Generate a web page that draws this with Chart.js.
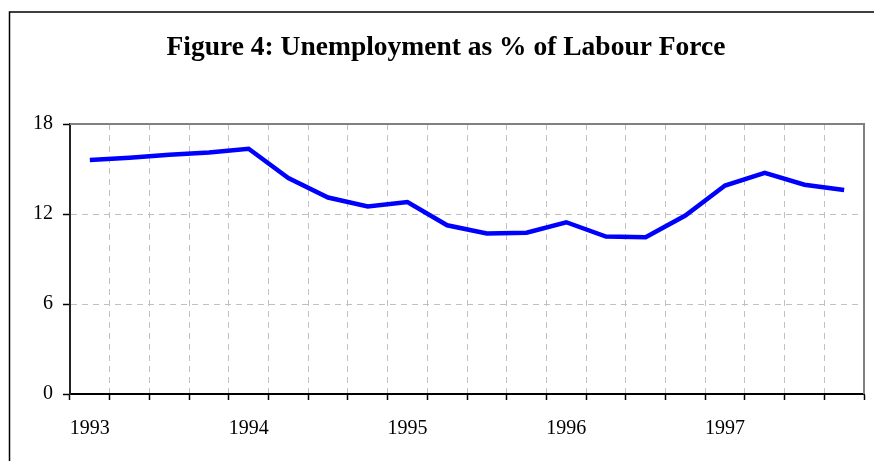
<!DOCTYPE html>
<html>
<head>
<meta charset="utf-8">
<script src="https://cdn.jsdelivr.net/npm/chart.js@4/dist/chart.umd.min.js"></script>
<style>
  html, body { margin: 0; padding: 0; background: #fff; }
  #wrap { width: 874px; height: 461px; position: relative; }
</style>
</head>
<body>
<div id="wrap"><canvas id="unempChart" width="874" height="461"></canvas></div>
<script>
// Quarterly data, 1993 Q1 - 1997 Q4
const quarters = [
    '1993 Q1', '1993 Q2', '1993 Q3', '1993 Q4',
    '1994 Q1', '1994 Q2', '1994 Q3', '1994 Q4',
    '1995 Q1', '1995 Q2', '1995 Q3', '1995 Q4',
    '1996 Q1', '1996 Q2', '1996 Q3', '1996 Q4',
    '1997 Q1', '1997 Q2', '1997 Q3', '1997 Q4'
];
const unemployment = [
    15.6, 15.75, 15.95, 16.1,
    16.35, 14.4, 13.1, 12.5,
    12.8, 11.25, 10.7, 10.75,
    11.45, 10.5, 10.45, 11.9,
    13.9, 14.75, 13.95, 13.6
];
const yearLabels = ['1993', '', '', '', '1994', '', '', '', '1995', '', '', '', '1996', '', '', '', '1997', '', '', ''];
const yTicks = [0, 6, 12, 18];

const serif = "'Liberation Serif', 'Times New Roman', serif";

// Gray frame on top/right of the plot and the outer box lines
const framePlugin = {
    id: 'frame',
    afterDraw(chart) {
        const { ctx, chartArea: a } = chart;
        ctx.save();
        ctx.strokeStyle = '#808080';
        ctx.lineWidth = 2;
        ctx.beginPath();
        ctx.moveTo(a.left, a.top);
        ctx.lineTo(a.right, a.top);
        ctx.lineTo(a.right, a.bottom);
        ctx.stroke();
        ctx.strokeStyle = '#000';
        ctx.lineWidth = 1.5;
        ctx.beginPath();
        ctx.moveTo(9.5, 461);
        ctx.lineTo(9.5, 12);
        ctx.lineTo(874, 12);
        ctx.stroke();
        ctx.restore();
    }
};

const ctx = document.getElementById('unempChart').getContext('2d');
new Chart(ctx, {
    type: 'line',
    data: {
        labels: quarters,
        datasets: [{
            label: 'Unemployment (%)',
            data: unemployment,
            borderColor: '#0000ff',
            backgroundColor: '#0000ff',
            borderWidth: 4.5,
            pointRadius: 0,
            tension: 0
        }]
    },
    options: {
        responsive: false,
        animation: false,
        layout: { padding: { left: 28, right: 10, top: 0, bottom: 0 } },
        plugins: {
            legend: { display: false },
            tooltip: { enabled: false },
            title: {
                display: true,
                text: 'Figure 4: Unemployment as % of Labour Force',
                color: '#000',
                font: { family: serif, size: 27.5, weight: 'bold' },
                padding: { top: 31, bottom: 60 }
            }
        },
        scales: {
            x: {
                offset: true,
                grid: {
                    offset: true,
                    color: '#c0c0c0',
                    lineWidth: 1,
                    tickLength: 6,
                    tickColor: '#000',
                    tickWidth: 1.5,
                    tickBorderDash: []
                },
                border: { display: true, color: '#000', width: 2, dash: [6, 5] },
                ticks: {
                    autoSkip: false,
                    maxRotation: 0,
                    color: '#000',
                    font: { family: serif, size: 20 },
                    padding: 17,
                    callback: (v, i) => yearLabels[i]
                },
                afterFit: s => { s.height = 67; }
            },
            y: {
                min: 0,
                max: 18,
                afterBuildTicks: s => { s.ticks = yTicks.map(v => ({ value: v })); },
                grid: {
                    color: '#c0c0c0',
                    lineWidth: 1,
                    tickLength: 7,
                    tickColor: '#000',
                    tickWidth: 1.5,
                    tickBorderDash: []
                },
                border: { display: true, color: '#222', width: 2, dash: [6, 5] },
                ticks: {
                    color: '#000',
                    font: { family: serif, size: 20 },
                    padding: 10
                },
                afterFit: s => { s.width = 42; }
            }
        }
    },
    plugins: [framePlugin]
});
</script>
</body>
</html>
